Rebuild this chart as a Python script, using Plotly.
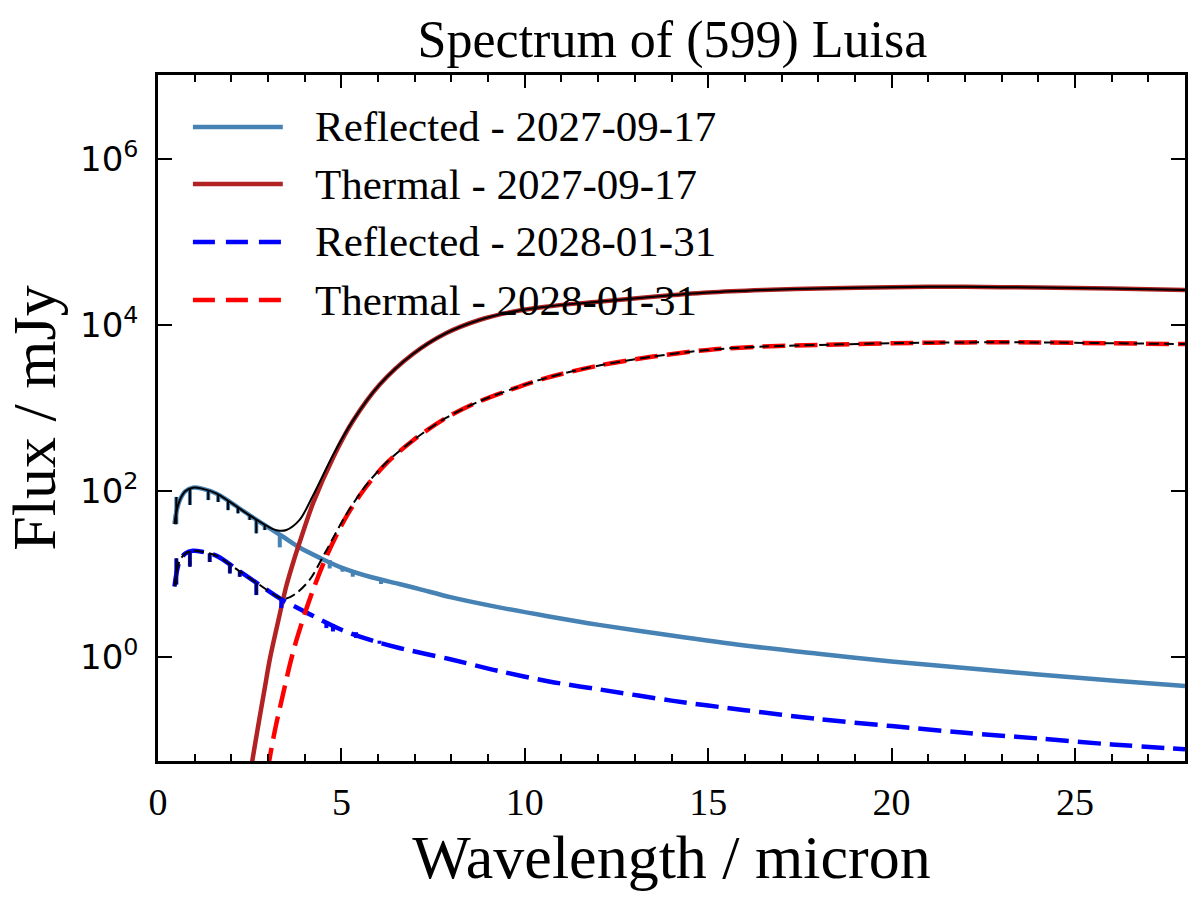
import plotly.graph_objects as go

# ---------------- data ----------------
# Reflected component, 2027-09-17  (wavelength in micron, flux in mJy)
refl1_wl = [0.45, 0.50, 0.60, 0.75, 0.95, 1.20, 1.60, 1.96, 2.50, 3.05, 3.41, 3.86,
            4.40, 5.00, 5.85, 6.58, 7.13, 8.00, 9.30, 10.66, 12.02, 14.0, 16.0,
            18.0, 20.0, 22.0, 24.0, 26.0, 28.0]
refl1_flux = [40, 56, 79, 100, 110, 107, 93, 74, 51, 35.5, 28.2, 20.9,
              15.8, 12.0, 9.1, 7.6, 6.6, 5.25, 3.98, 3.09, 2.45, 1.82, 1.38,
              1.10, 0.89, 0.74, 0.62, 0.525, 0.45]

# Thermal component, 2027-09-17
therm1_wl = [2.40, 2.57, 2.75, 2.90, 3.05, 3.25, 3.50, 3.70, 3.86, 4.23, 4.77, 5.31,
             6.04, 6.95, 7.85, 8.76, 9.67, 10.57, 12.0, 13.5, 15.0, 16.5, 18.0,
             20.0, 22.0, 24.0, 26.0, 28.0]
therm1_flux = [0.018, 0.056, 0.166, 0.40, 0.95, 2.4, 7.24, 14.5, 24, 72, 251, 692,
               1905, 4467, 7943, 11480, 14450, 16600, 19050, 21880, 24550, 26300,
               27540, 28510, 28840, 28180, 27540, 26300]

# Reflected component, 2028-01-31
refl2_wl = [0.45, 0.50, 0.60, 0.75, 0.95, 1.20, 1.60, 2.14, 2.68, 3.32, 3.77, 4.13,
            5.00, 5.85, 6.58, 7.94, 9.30, 10.66, 12.02, 14.0, 16.0, 18.0, 20.0,
            22.0, 24.0, 26.0, 28.0]
refl2_flux = [7.1, 10.0, 14.8, 17.8, 19.1, 18.6, 16.6, 11.5, 7.9, 5.1, 4.0, 3.3,
              2.14, 1.58, 1.29, 0.95, 0.68, 0.51, 0.41, 0.30, 0.23, 0.18, 0.148,
              0.123, 0.105, 0.089, 0.078]

# Thermal component, 2028-01-31
therm2_wl = [2.85, 3.03, 3.20, 3.41, 3.60, 3.77, 4.13, 4.59, 5.13, 5.67, 6.22, 6.95,
             7.85, 8.76, 9.67, 10.57, 12.0, 13.5, 15.0, 16.5, 18.0, 20.0, 22.0,
             24.0, 26.0, 28.0]
therm2_flux = [0.018, 0.056, 0.14, 0.36, 0.83, 1.58, 4.9, 16.2, 49, 112, 214, 407,
               759, 1202, 1698, 2291, 3236, 4169, 5012, 5495, 5754, 6026, 6166,
               6166, 6026, 5888]

# Total (reflected + thermal), 2027-09-17
tot1_wl = [0.45, 0.50, 0.60, 0.75, 0.95, 1.20, 1.60, 1.96, 2.50, 3.05, 3.27, 3.50,
           3.86, 4.23, 4.77, 5.31, 6.04, 6.95, 7.85, 8.76, 9.67, 10.57, 12.0, 13.5,
           15.0, 16.5, 18.0, 20.0, 22.0, 24.0, 26.0, 28.0]
tot1_flux = [40, 56, 79, 100, 110, 107, 93, 74, 51, 36.4, 33.5, 34,
             45, 89, 270, 700, 1910, 4470, 7950, 11490, 14460, 16600, 19050, 21880,
             24550, 26300, 27540, 28510, 28840, 28180, 27540, 26300]

# Total (reflected + thermal), 2028-01-31
tot2_wl = [0.45, 0.50, 0.60, 0.75, 0.95, 1.20, 1.60, 2.14, 2.68, 3.32, 3.50, 3.77,
           4.13, 4.59, 5.13, 5.67, 6.22, 6.95, 7.85, 8.76, 9.67, 10.57, 12.0, 13.5,
           15.0, 16.5, 18.0, 20.0, 22.0, 24.0, 26.0, 28.0]
tot2_flux = [7.1, 10.0, 14.8, 17.8, 19.1, 18.6, 16.6, 11.5, 7.9, 5.2, 5.1, 5.9,
             8.5, 19.3, 52, 117, 219, 407, 760, 1203, 1699, 2292, 3237, 4170,
             5013, 5496, 5755, 6027, 6167, 6167, 6027, 5889]

# Absorption features in the reflected spectra (wavelength, continuum, dip) in mJy
abs1_wl = [0.50, 0.87, 1.37, 1.64, 1.91, 2.18, 2.50, 2.68, 2.91, 3.32, 4.68, 5.03, 5.31, 6.08]
abs1_top = [85, 107, 100, 91, 76, 63, 51, 46, 39, 30, 14.8, 12.3, 11.2, 8.8]
abs1_bot = [40, 68, 78, 74, 59, 54, 45, 31, 34, 21, 11.7, 10.7, 9.3, 7.6]
abs1_total = [True, True, True, True, True, True, True, True, True, False, False, False, False, False]

abs2_wl = [0.50, 0.87, 1.41, 1.96, 2.23, 2.68, 3.36, 4.59, 4.77, 5.40, 6.04]
abs2_top = [15.5, 19, 17.8, 13.2, 11.0, 7.9, 5.0, 2.7, 2.5, 2.0, 1.58]
abs2_bot = [7.5, 12.3, 14.0, 10.2, 9.3, 5.6, 3.9, 2.24, 2.04, 1.7, 1.45]
abs2_total = [True, True, True, True, True, True, False, False, False, False, False]

legend_labels = ["Reflected - 2027-09-17", "Thermal - 2027-09-17",
                 "Reflected - 2028-01-31", "Thermal - 2028-01-31"]

x_ticks = [0, 5, 10, 15, 20, 25]
y_ticks = [1, 100, 1e4, 1e6]
y_ticktext = ["10<sup>0</sup>", "10<sup>2</sup>", "10<sup>4</sup>", "10<sup>6</sup>"]

# ---------------- styles ----------------
SERIF = "Liberation Serif, Times New Roman, serif"
SANS = "DejaVu Sans, sans-serif"
C_REFL1 = "#4682B4"
C_THERM1 = "#B22222"
C_REFL2 = "#0000FF"
C_THERM2 = "#FF0000"
DASH_THICK = "23px,9px"
DASH_THIN = "10px,5px"

fig = go.Figure()


def add_line(x, y, color, width, dash="solid", shape="spline"):
    fig.add_trace(go.Scatter(
        x=x, y=y, mode="lines",
        line=dict(color=color, width=width, dash=dash, shape=shape, smoothing=0.9),
        showlegend=False, hoverinfo="skip"))


def add_spikes(wl, top, bot, mask, color, width, only_mask=False):
    xs, ys = [], []
    for w, t, b, m in zip(wl, top, bot, mask):
        if only_mask and not m:
            continue
        xs += [w, w, None]
        ys += [t, b, None]
    if xs:
        fig.add_trace(go.Scatter(x=xs, y=ys, mode="lines",
                                 line=dict(color=color, width=width),
                                 showlegend=False, hoverinfo="skip"))


# coloured components
add_line(refl1_wl, refl1_flux, C_REFL1, 4.5)
add_spikes(abs1_wl, abs1_top, abs1_bot, abs1_total, C_REFL1, 4)
add_line(therm1_wl, therm1_flux, C_THERM1, 4.5)
add_line(refl2_wl, refl2_flux, C_REFL2, 4.5, dash=DASH_THICK)
add_spikes(abs2_wl, abs2_top, abs2_bot, abs2_total, C_REFL2, 4)
add_line(therm2_wl, therm2_flux, C_THERM2, 4.5, dash=DASH_THICK)

# totals in black
add_line(tot1_wl, tot1_flux, "black", 2)
add_spikes(abs1_wl, abs1_top, abs1_bot, abs1_total, "black", 2, only_mask=True)
add_line(tot2_wl, tot2_flux, "black", 2, dash=DASH_THIN)
add_spikes(abs2_wl, abs2_top, abs2_bot, abs2_total, "black", 2, only_mask=True)

# ---------------- manual legend (long line samples like the reference) ----------------
leg_styles = [(C_REFL1, "solid"), (C_THERM1, "solid"), (C_REFL2, "22px,11px"), (C_THERM2, "22px,11px")]
leg_y = [0.9242, 0.8411, 0.7566, 0.6720]
for (col, dsh), yy, lab in zip(leg_styles, leg_y, legend_labels):
    fig.add_shape(type="line", xref="paper", yref="paper", x0=0.034, x1=0.1215,
                  y0=yy, y1=yy, line=dict(color=col, width=4.5, dash=dsh))
    fig.add_annotation(xref="paper", yref="paper", x=0.1506, y=yy, text=lab,
                       showarrow=False, xanchor="left", yanchor="middle",
                       font=dict(family=SERIF, size=43, color="black"))

axis_common = dict(showline=True, linecolor="black", linewidth=2.5, mirror="allticks",
                   ticks="inside", tickcolor="black", tickwidth=2, showgrid=False,
                   zeroline=False)

fig.update_layout(
    width=1200, height=900,
    margin=dict(l=158, r=13, t=75, b=139),
    paper_bgcolor="white", plot_bgcolor="white",
    title=dict(text="Spectrum of (599) Luisa", x=0.5604, xanchor="center",
               y=0.957, yanchor="middle", yref="container",
               font=dict(family=SERIF, size=52, color="black")),
    xaxis=dict(range=[0, 28], tickvals=x_ticks, ticklen=13,
               minor=dict(dtick=1, ticklen=7, tickwidth=1.5, ticks="inside", tickcolor="black"),
               tickfont=dict(family=SERIF, size=38, color="black"),
               ticklabelstandoff=6,
               title=dict(text="Wavelength / micron", standoff=8,
                          font=dict(family=SERIF, size=62, color="black")),
               **axis_common),
    yaxis=dict(type="log", range=[-1.25, 7.01], tickvals=y_ticks, ticktext=y_ticktext,
               ticklen=14,
               tickfont=dict(family=SANS, size=34, color="black"),
               ticklabelstandoff=10,
               title=dict(text="Flux / mJy", standoff=6,
                          font=dict(family=SERIF, size=62, color="black")),
               **axis_common),
)

fig.write_html("out.html")
